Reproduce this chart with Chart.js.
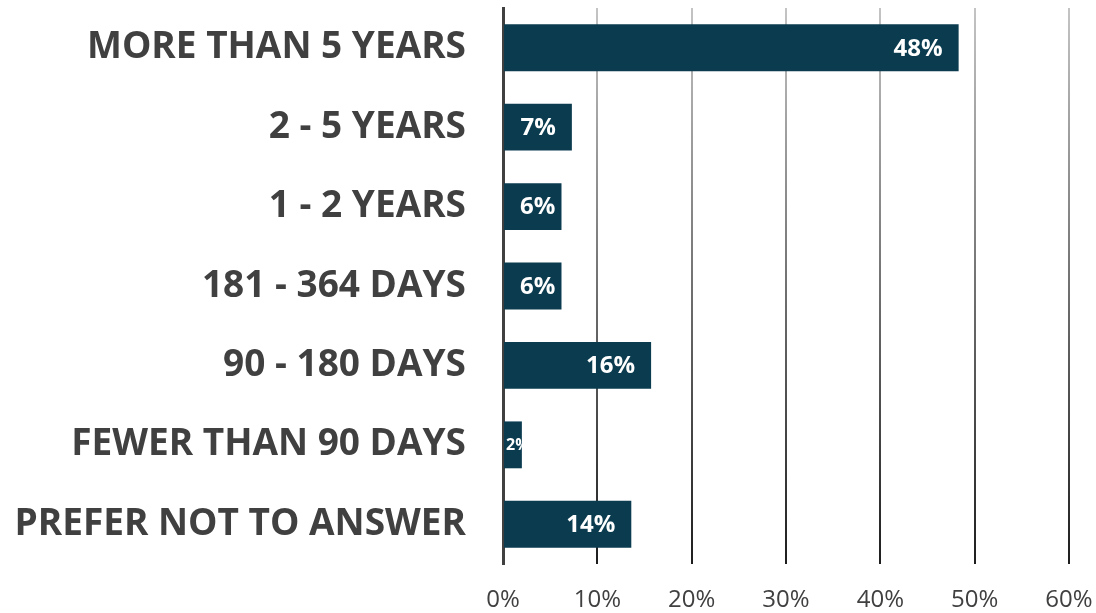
<!DOCTYPE html>
<html>
<head>
<meta charset="utf-8">
<script src="https://cdn.jsdelivr.net/npm/chart.js@4/dist/chart.umd.min.js"></script>
<style>
  html, body { margin: 0; padding: 0; background: #fff; }
  #wrap { width: 1096px; height: 613px; }
</style>
</head>
<body>
<div id="wrap"><canvas id="chart"></canvas></div>
<script>
const categories = ['MORE THAN 5 YEARS', '2 - 5 YEARS', '1 - 2 YEARS', '181 - 364 DAYS',
                    '90 - 180 DAYS', 'FEWER THAN 90 DAYS', 'PREFER NOT TO ANSWER'];
const shares = [48.3, 7.3, 6.2, 6.2, 15.7, 2.0, 13.6];
const shareLabels = ['48%', '7%', '6%', '6%', '16%', '2%', '14%'];
const xTicks = [0, 10, 20, 30, 40, 50, 60];

// white % labels drawn inside the bar end, clipped to the bar
const barLabels = {
  id: 'barLabels',
  afterDatasetsDraw(chart) {
    const ctx = chart.ctx;
    const meta = chart.getDatasetMeta(0);
    meta.data.forEach((bar, i) => {
      const left = bar.base, right = bar.x;
      const top = bar.y - bar.height / 2;
      ctx.save();
      ctx.beginPath();
      ctx.rect(left, top, right - left, bar.height);
      ctx.clip();
      ctx.font = 'bold ' + (shares[i] < 4 ? 16 : 24) + 'px "Open Sans"';
      ctx.fillStyle = '#ffffff';
      ctx.textBaseline = 'middle';
      ctx.textAlign = 'left';
      const w = ctx.measureText(shareLabels[i]).width;
      const x = (right - left) > w + 20 ? Math.max(left + 16, right - 16 - w) : left + 2;
      ctx.fillText(shareLabels[i], x, bar.y + 1);
      ctx.restore();
    });
  }
};

function gridGradient(c) {
  const chart = c.chart;
  const area = chart.chartArea;
  if (!area) return '#999';
  const g = chart.ctx.createLinearGradient(0, area.top, 0, area.bottom);
  g.addColorStop(0, '#c4c4c4');
  g.addColorStop(1, '#1e1e1e');
  return g;
}

new Chart(document.getElementById('chart'), {
  type: 'bar',
  data: {
    labels: categories,
    datasets: [{
      data: shares,
      backgroundColor: '#0a3b4f',
      borderWidth: 0,
      categoryPercentage: 1,
      barPercentage: 0.59
    }]
  },
  options: {
    indexAxis: 'y',
    responsive: true,
    maintainAspectRatio: false,
    animation: false,
    layout: { padding: { top: 8, right: 27, bottom: 0, left: 0 } },
    plugins: { legend: { display: false }, tooltip: { enabled: false } },
    scales: {
      x: {
        min: 0,
        max: 60,
        afterBuildTicks(scale) { scale.ticks = xTicks.map(v => ({ value: v })); },
        grid: { color: gridGradient, lineWidth: 2, drawTicks: false },
        border: { display: false },
        ticks: {
          padding: 22,
          color: '#404040',
          font: { family: 'Open Sans', size: 24 },
          callback: v => v + '%'
        },
        afterFit(scale) {
          scale.height = 49;
          scale.paddingLeft = 0;
          scale.paddingRight = 0;
        }
      },
      y: {
        grid: { display: true, color: 'transparent', drawTicks: false },
        border: { display: true, color: '#404040', width: 3 },
        ticks: {
          padding: 37,
          color: '#404040',
          font: { family: 'Open Sans', size: 37, weight: 'bold', lineHeight: 1.3 }
        },
        afterFit(scale) {
          scale.width = 503;
          scale.paddingTop = 0;
          scale.paddingBottom = 0;
        }
      }
    }
  },
  plugins: [barLabels]
});
</script>
</body>
</html>
